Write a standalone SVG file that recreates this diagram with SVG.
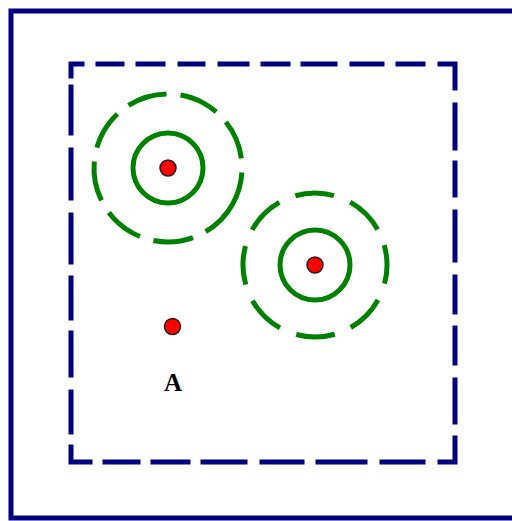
<svg xmlns="http://www.w3.org/2000/svg" width="512" height="521" viewBox="0 0 512 521">
<style>
.frame{fill:none;stroke:#000080;stroke-width:5}
.dash{fill:none;stroke:#000080;stroke-width:5;stroke-linecap:square;stroke-linejoin:miter}
.ring{fill:none;stroke:#008000;stroke-width:5}
.dring{fill:none;stroke:#008000;stroke-width:5}
.dot{fill:#ff0000;stroke:#202020;stroke-width:1.5}
.lbl{font-family:"Liberation Serif","Times New Roman",serif;font-weight:bold;font-size:25px;fill:#000;text-anchor:middle}
</style>
<rect width="512" height="521" fill="#ffffff"/>
<g id="frame"><rect class="frame" x="11" y="11" width="520" height="507"/></g>
<g id="region">
<path class="dash" d="M71,76 L71,64 L82,64 M98,64 L122,64 M138,64 L163,64 M180,64 L203,64 M220,64 L247,64 M263,64 L288,64 M303,64 L335,64 M352,64 L382,64 M398,64 L423,64 M440,64 L455,64 L455,88 M455,105 L455,148 M455,163 L455,195 M455,212 L455,260 M455,277 L455,312 M455,328 L455,363 M455,380 L455,422 M455,438 L455,462 L440,462 M423,462 L382,462 M365,462 L318,462 M302,462 L262,462 M245,462 L203,462 M188,462 L153,462 M138,462 L105,462 M90,462 L71,462 L71,447 M71,432 L71,392 M71,375 L71,333 M71,318 L71,278 M71,262 L71,215 M71,198 L71,150 M71,133 L71,87"/>
</g>
<g id="node1">
<circle class="dring" cx="168" cy="168" r="74" stroke-dasharray="40 14" transform="rotate(28.4 168 168)"/>
<circle class="ring" cx="168" cy="168" r="35"/>
<circle class="dot" cx="168" cy="168" r="8"/>
</g>
<g id="node2">
<circle class="dring" cx="315" cy="265" r="72" stroke-dasharray="39 17.5" transform="rotate(-16 315 265)"/>
<circle class="ring" cx="315" cy="265" r="35"/>
<circle class="dot" cx="315" cy="265" r="8"/>
</g>
<g id="nodeA">
<circle class="dot" cx="172.5" cy="326.5" r="8"/>
<text class="lbl" x="173" y="391">A</text>
</g>
<g id="connectors"></g>
</svg>
